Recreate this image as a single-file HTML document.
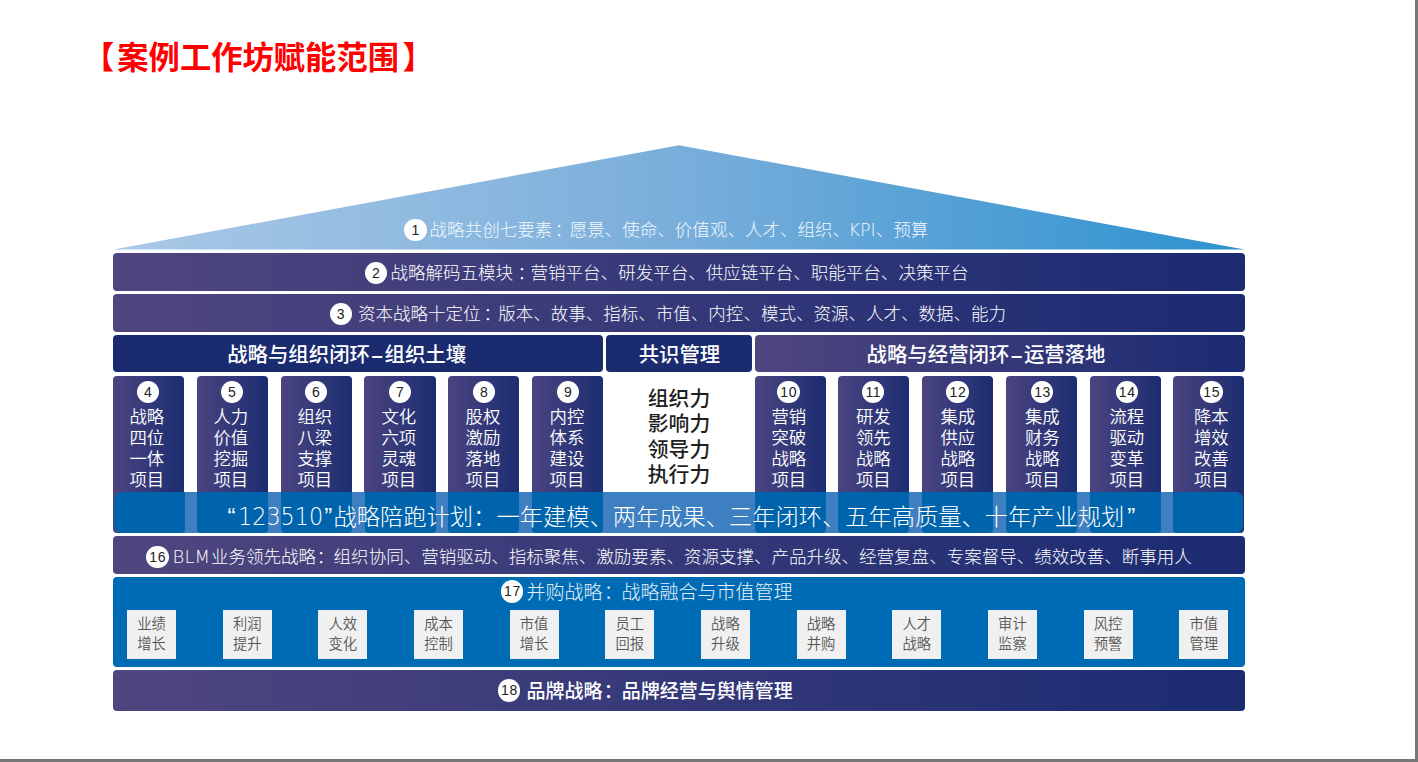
<!DOCTYPE html>
<html lang="zh-CN">
<head>
<meta charset="utf-8">
<title>案例工作坊赋能范围</title>
<style>
*{box-sizing:border-box;margin:0;padding:0}
html,body{width:1418px;height:762px;overflow:hidden;background:#fff}
body{position:relative;font-family:"Liberation Sans","Noto Sans CJK SC",sans-serif;color:#fff}
.frame-r{position:absolute;left:1415px;top:0;width:3px;height:762px;background:#767676}
.frame-b{position:absolute;left:0;top:759px;width:1418px;height:3px;background:#767676}
.title{position:absolute;left:86px;top:35.5px;font-size:31.3px;line-height:45px;font-weight:700;color:#ff0000;white-space:nowrap;letter-spacing:0}
.roof{position:absolute;left:113.5px;top:145.3px;width:1131px;height:104.3px;background:linear-gradient(90deg,#aac9e6 0%,#79aedb 50%,#2d92cf 100%);clip-path:polygon(0 100%,50% 0,100% 100%)}
.bar{position:absolute;left:113.3px;width:1131.3px;border-radius:4px;background:linear-gradient(90deg,#4f467f 0%,#1b2b72 100%);white-space:nowrap}
.txt{position:absolute;white-space:nowrap;font-size:17.52px;line-height:24px;font-weight:300;color:#fff}
.num{position:absolute;width:22.4px;height:22.4px;border-radius:50%;background:#fff;color:#222;font-family:"Liberation Sans",sans-serif;font-size:14px;line-height:22.4px;text-align:center;font-weight:400;letter-spacing:.6px;text-indent:.6px}
.lt{font-family:"DejaVu Sans","Liberation Sans",sans-serif;font-weight:200}
.p{position:relative;left:.19em}
.hd{position:absolute;top:335px;height:37.2px;border-radius:4px;background:#1a2c6f;font-size:20.4px;line-height:37px;padding-top:1.9px;font-weight:500;text-align:left;white-space:nowrap}
.hd b{display:inline-block;width:14.6px;text-align:center;font-weight:700}
.col{position:absolute;top:375.8px;width:71px;height:157px;border-radius:4px;background:linear-gradient(90deg,#4c4481 0%,#1b2d71 100%);text-align:center;font-size:17.4px;line-height:21.2px;font-weight:350;padding-top:30.8px}
.in{position:relative}
.col .num{top:-25.6px}
.banner{position:absolute;left:114.2px;top:492.3px;width:1129.2px;height:40.3px;border-radius:8px;background:#3d7fc0;overflow:hidden}
.banner i{position:absolute;top:0;height:100%;width:71px;background:#0064ad;border-radius:0 0 4px 4px}
.btxt{position:absolute;top:498.5px;font-size:23.25px;line-height:36px;font-weight:300;white-space:nowrap;color:#fff}
.q{font-family:"Liberation Sans",sans-serif;font-size:24px}
.dg{display:inline-block;font-size:24.3px;transform:scaleX(.918);transform-origin:0 50%;margin-right:-7.6px}
.core{position:absolute;left:606px;top:386.2px;width:146px;text-align:center;color:#1f1f1f;font-size:20.8px;line-height:25.2px;font-weight:500}
.r17{position:absolute;left:113.3px;top:576.8px;width:1131.3px;height:90px;border-radius:4px;background:#006bb5}
.box{position:absolute;top:610.4px;width:49px;height:48.8px;background:#f0f0f0;color:#555;font-size:14.3px;line-height:19.9px;font-weight:350;text-align:center;padding-top:4.7px}
</style>
</head>
<body>
<div class="title"><span style="position:relative;left:-3px">【</span>案例工作坊赋能范围<span style="position:relative;left:3.5px">】</span></div>

<div class="roof"></div>

<!-- row 1 -->
<div class="num" style="left:404.2px;top:218.5px">1</div>
<div class="txt" style="left:429.6px;top:217.8px;color:#f2f8fd">战略共创七要素<span class="p" style="left:.14em">：</span>愿景、使命、价值观、人才、组织、<span class="lt" style="font-size:17.5px;margin-left:-1.6px">KPI</span>、预算</div>

<!-- row 2 -->
<div class="bar" style="top:253px;height:37.6px"></div>
<div class="num" style="left:364.8px;top:262.1px">2</div>
<div class="txt" style="left:390.4px;top:260.9px">战略解码五模块<span class="p" style="left:.25em">：</span>营销平台、研发平台、供应链平台、职能平台、决策平台</div>

<!-- row 3 -->
<div class="bar" style="top:294px;height:37.5px"></div>
<div class="num" style="left:329.5px;top:302.8px">3</div>
<div class="txt" style="left:358px;top:301.7px">资本战略十定位<span class="p" style="left:.17em">：</span>版本、故事、指标、市值、内控、模式、资源、人才、数据、能力</div>

<!-- row 4 headers -->
<div class="hd" style="left:113.3px;width:489.5px;padding-left:113.9px">战略与组织闭环<b>–</b>组织土壤</div>
<div class="hd" style="left:606px;width:145.7px;padding-left:32.7px">共识管理</div>
<div class="hd" style="left:755px;width:489.6px;background:linear-gradient(90deg,#4f467f 0%,#1b2b72 100%);padding-left:111.6px">战略与经营闭环<b>–</b>运营落地</div>

<!-- columns -->
<div class="col" style="left:113.10px;width:71.2px"><div class="in" style="left:-1.85px"><span class="num" style="left:25.55px">4</span>战略<br>四位<br>一体<br>项目</div></div>
<div class="col" style="left:196.88px;width:71.2px"><div class="in" style="left:-1.62px"><span class="num" style="left:25.54px">5</span>人力<br>价值<br>挖掘<br>项目</div></div>
<div class="col" style="left:280.66px;width:71.2px"><div class="in" style="left:-1.39px"><span class="num" style="left:25.53px">6</span>组织<br>八梁<br>支撑<br>项目</div></div>
<div class="col" style="left:364.44px;width:71.2px"><div class="in" style="left:-1.16px"><span class="num" style="left:25.52px">7</span>文化<br>六项<br>灵魂<br>项目</div></div>
<div class="col" style="left:448.22px;width:71.2px"><div class="in" style="left:-0.93px"><span class="num" style="left:25.51px">8</span>股权<br>激励<br>落地<br>项目</div></div>
<div class="col" style="left:532.00px;width:71.2px"><div class="in" style="left:-0.70px"><span class="num" style="left:25.50px">9</span>内控<br>体系<br>建设<br>项目</div></div>

<div class="core">组织力<br>影响力<br>领导力<br>执行力</div>

<div class="col" style="left:754.80px"><div class="in" style="left:-1.50px"><span class="num" style="left:23.90px">10</span>营销<br>突破<br>战略<br>项目</div></div>
<div class="col" style="left:838.48px"><div class="in" style="left:-0.66px"><span class="num" style="left:24.00px">11</span>研发<br>领先<br>战略<br>项目</div></div>
<div class="col" style="left:922.16px"><div class="in" style="left:0.18px"><span class="num" style="left:24.10px">12</span>集成<br>供应<br>战略<br>项目</div></div>
<div class="col" style="left:1005.84px"><div class="in" style="left:1.02px"><span class="num" style="left:24.20px">13</span>集成<br>财务<br>战略<br>项目</div></div>
<div class="col" style="left:1089.52px"><div class="in" style="left:1.86px"><span class="num" style="left:24.30px">14</span>流程<br>驱动<br>变革<br>项目</div></div>
<div class="col" style="left:1173.20px"><div class="in" style="left:2.70px"><span class="num" style="left:24.40px">15</span>降本<br>增效<br>改善<br>项目</div></div>

<!-- banner -->
<div class="banner">
  <i style="left:-0.70px"></i><i style="left:83.05px"></i><i style="left:166.80px"></i><i style="left:250.55px"></i><i style="left:334.30px"></i><i style="left:418.05px"></i>
  <i style="left:640.60px"></i><i style="left:724.28px"></i><i style="left:807.96px"></i><i style="left:891.64px"></i><i style="left:975.32px"></i><i style="left:1059.00px"></i>
</div>
<div class="btxt" style="left:226.5px"><span class="q" style="margin-left:1px;margin-right:2.5px">“</span><span class="lt dg">123510</span><span class="q" style="margin-left:1px">”</span></div>
<div class="btxt" style="left:333.6px">战略陪跑计划<span class="p" style="left:0">：</span>一年建模、两年成果、三年闭环、五年高质量、十年产业规划<span class="q" style="margin-left:3px">”</span></div>

<!-- row 16 -->
<div class="bar" style="top:536px;height:37.5px"></div>
<div class="num" style="left:146.2px;top:546px">16</div>
<div class="txt" style="left:172.6px;top:544.8px"><span class="lt" style="font-size:18px;margin-right:1px">BLM</span>业务领先战略<span class="p" style="left:.04em">：</span>组织协同、营销驱动、指标聚焦、激励要素、资源支撑、产品升级、经营复盘、专案督导、绩效改善、断事用人</div>

<!-- row 17 -->
<div class="r17"></div>
<div class="num" style="left:501px;top:580.3px">17</div>
<div class="txt" style="left:526.5px;top:580.6px;font-size:19px;color:#e4f2fc">并购战略<span class="p" style="left:.06em">：</span>战略融合与市值管理</div>
<div class="box" style="left:127px">业绩<br>增长</div>
<div class="box" style="left:222.7px">利润<br>提升</div>
<div class="box" style="left:318.3px">人效<br>变化</div>
<div class="box" style="left:414px">成本<br>控制</div>
<div class="box" style="left:509.6px">市值<br>增长</div>
<div class="box" style="left:605.3px">员工<br>回报</div>
<div class="box" style="left:700.9px">战略<br>升级</div>
<div class="box" style="left:796.6px">战略<br>并购</div>
<div class="box" style="left:892.2px">人才<br>战略</div>
<div class="box" style="left:987.9px">审计<br>监察</div>
<div class="box" style="left:1083.5px">风控<br>预警</div>
<div class="box" style="left:1179.2px">市值<br>管理</div>

<!-- row 18 -->
<div class="bar" style="top:670.2px;height:40.8px"></div>
<div class="num" style="left:498px;top:679.2px">18</div>
<div class="txt" style="left:526.6px;top:679.9px;font-size:19px;font-weight:500">品牌战略<span class="p" style="left:.06em">：</span>品牌经营与舆情管理</div>

<div class="frame-r"></div>
<div class="frame-b"></div>
</body>
</html>
